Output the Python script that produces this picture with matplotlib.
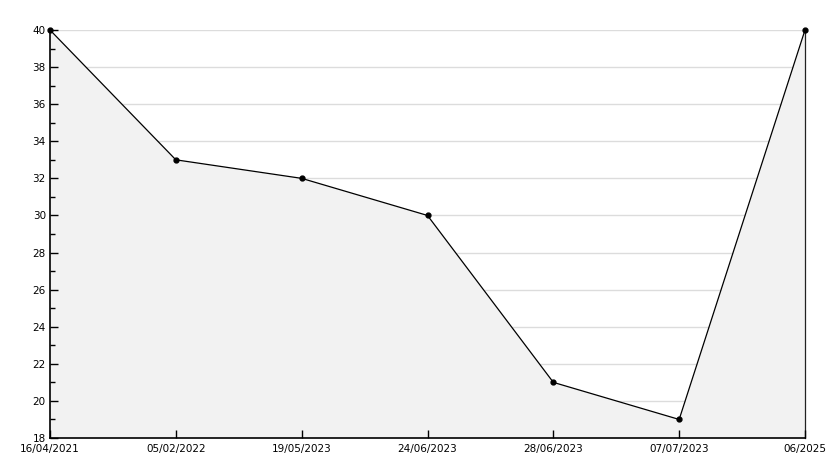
import matplotlib
matplotlib.use('Agg')
import matplotlib.pyplot as plt
from matplotlib.ticker import MultipleLocator

# data
dates = ['16/04/2021', '05/02/2022', '19/05/2023', '24/06/2023',
         '28/06/2023', '07/07/2023', '06/2025']
values = [40, 33, 32, 30, 21, 19, 40]

W, H = 834, 468
fig = plt.figure(figsize=(W / 100, H / 100), dpi=100)
ax = fig.add_axes([50 / W, (H - 438) / H, (805 - 50) / W, (438 - 30) / H])

x = list(range(len(dates)))
ax.set_xlim(0, len(dates) - 1)
ax.set_ylim(18, 40)
ax.yaxis.set_major_locator(MultipleLocator(2))
ax.yaxis.set_minor_locator(MultipleLocator(1))
ax.set_xticks(x)
ax.set_xticklabels(dates)

# grid behind the fill, ticks in front of it
for yv in ax.get_yticks():
    if 18 < yv <= 40:
        ax.axhline(yv, color='#dcdcdc', linewidth=1.0, zorder=0.2)
ax.fill_between(x, values, 18, color='#f2f2f2', linewidth=0, zorder=0.4)
ax.plot(x, values, color='black', linewidth=0.9, marker='o', markersize=3.5,
        markerfacecolor='black', markeredgecolor='black', zorder=3,
        clip_on=False)
ax.set_axisbelow(False)

ax.tick_params(axis='both', which='major', direction='in', length=6,
               width=1, labelsize=7.5, colors='black', pad=3)
ax.tick_params(axis='y', which='minor', direction='in', length=3.5, width=1)
ax.tick_params(axis='x', pad=4)

ax.spines['top'].set_visible(False)
ax.spines['right'].set_color('#222222')
ax.spines['right'].set_linewidth(0.9)
ax.spines['left'].set_linewidth(1.2)
ax.spines['bottom'].set_linewidth(1.2)

plt.savefig('out.png', dpi=100)
